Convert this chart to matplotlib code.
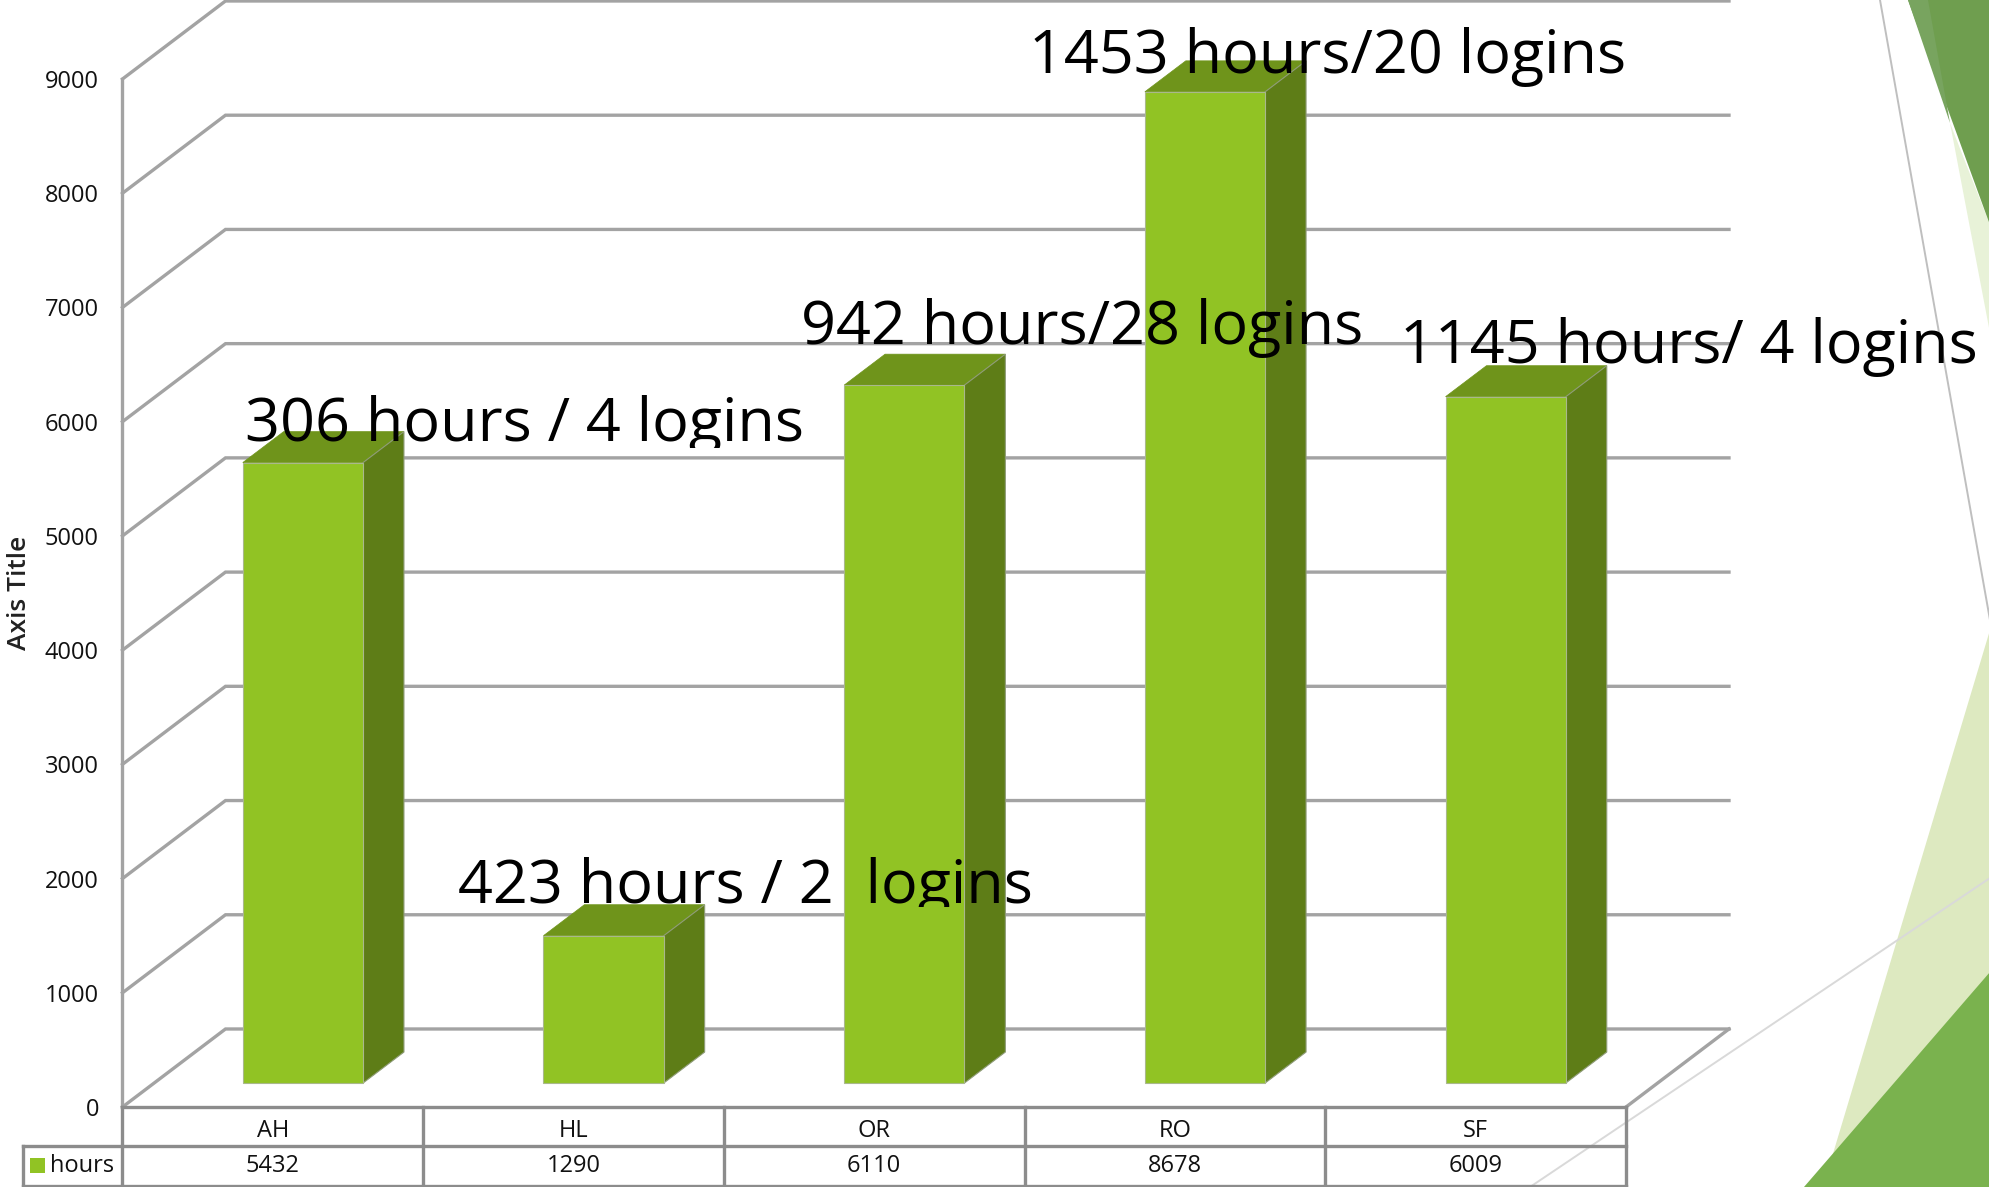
import matplotlib
matplotlib.use("Agg")
import matplotlib.pyplot as plt
from matplotlib.patches import Rectangle
from matplotlib.transforms import IdentityTransform

categories = ["AH", "HL", "OR", "RO", "SF"]
hours = [5432, 1290, 6110, 8678, 6009]
y_ticks = [0, 1000, 2000, 3000, 4000, 5000, 6000, 7000, 8000, 9000]
notes = ["306 hours / 4 logins", "423 hours / 2  logins", "942 hours/28 logins",
         "1453 hours/20 logins", "1145 hours/ 4 logins"]
series_name = "hours"
axis_title = "Axis Title"

W, H = 1990, 1187
FONT = "Open Sans"
GRID = "#a3a3a3"
TABLE = "#8c8c8c"
FRONT = "#91c324"
SIDE = "#5e7d17"
TOP = "#6f941b"

# oblique wall offset and bar box, in category / value units
WALL_DX, WALL_DY = 0.3425, 683
BAR_LEFT, BAR_W = 0.40, 0.40
BAR_DX, BAR_DY = 0.136, 271
BAR_BASE = 210
ROW_1, ROW_2 = -341, -692

fig = plt.figure(figsize=(W / 100, H / 100), dpi=100, facecolor="white")

# slide decoration behind the chart, in pixels
bg = fig.add_axes([0, 0, 1, 1])
bg.set_xlim(0, W)
bg.set_ylim(H, 0)
bg.axis("off")
bg.fill([1823, 1990, 1990, 1823], [1187, 630, 1187, 1187], color="#dde9c0", lw=0)
bg.fill([1804, 1990, 1990], [1187, 972, 1187], color="#7ab24e", lw=0)
bg.fill([1950, 1990, 1990], [123, 225, 333], color="#e8f2d8", lw=0)
bg.fill([1908, 1990, 1990], [0, 225, 0], color="#6f9e4f", lw=0)
bg.fill([1908, 1928, 1950], [0, 0, 123], color="#78a45f", lw=0)
bg.plot([1880, 1990], [0, 620], color="#bfbfbf", lw=1.4)
bg.plot([1530, 1990], [1187, 878], color="#d9d9d9", lw=1.4)

ax = fig.add_axes([122.5 / W, (H - 1107) / H, (1626 - 122.5) / W, (1107 - 79) / H])
ax.patch.set_alpha(0)
ax.set_xlim(0, len(categories))
ax.set_ylim(0, 9000)
for side in ax.spines.values():
    side.set_visible(False)

# walls
for v in y_ticks:
    ax.plot([0, WALL_DX, len(categories) + WALL_DX], [v, v + WALL_DY, v + WALL_DY],
            color=GRID, lw=2.4, clip_on=False, solid_joinstyle="miter", zorder=1)
ax.plot([0, 0], [0, 9000], color=GRID, lw=2.4, clip_on=False, zorder=1)
ax.plot([len(categories), len(categories) + WALL_DX], [0, WALL_DY], color=GRID, lw=2.4,
        clip_on=False, zorder=1)

# bars
for i, v in enumerate(hours):
    x0 = i + BAR_LEFT
    x1 = x0 + BAR_W
    y0 = BAR_BASE
    y1 = BAR_BASE + v
    ax.fill([x0, x1, x1 + BAR_DX, x0 + BAR_DX], [y1, y1, y1 + BAR_DY, y1 + BAR_DY],
            facecolor=TOP, edgecolor=TOP, lw=0.5, clip_on=False, zorder=3)
    ax.fill([x1, x1 + BAR_DX, x1 + BAR_DX, x1], [y0, y0 + BAR_DY, y1 + BAR_DY, y1],
            facecolor=SIDE, edgecolor="#8f9c78", lw=0.8, clip_on=False, zorder=3)
    ax.fill([x0, x1, x1, x0], [y0, y0, y1, y1],
            facecolor=FRONT, edgecolor="#a9b88c", lw=0.8, clip_on=False, zorder=3)

# data table under the chart
n = len(categories)
ax.plot([0, n], [0, 0], color=TABLE, lw=2.4, clip_on=False, zorder=2)
for y in (ROW_1, ROW_2):
    ax.plot([-0.332, n], [y, y], color=TABLE, lw=2.4, clip_on=False, zorder=2)
for i in range(n + 1):
    ax.plot([i, i], [0, ROW_2], color=TABLE, lw=2.4, clip_on=False, zorder=2)
ax.plot([-0.332, -0.332], [ROW_1, ROW_2], color=TABLE, lw=2.4, clip_on=False, zorder=2)
for i, (name, v) in enumerate(zip(categories, hours)):
    ax.text(i + 0.5, ROW_1 * 0.62, name, ha="center", va="center", fontsize=17, family=FONT, color="#111111")
    ax.text(i + 0.5, (ROW_1 + ROW_2) / 2, str(v), ha="center", va="center", fontsize=17, family=FONT, color="#111111")
ax.add_patch(Rectangle((-0.307, ROW_1 - 106), 0.05, -131, facecolor=FRONT, edgecolor="none", clip_on=False))
ax.text(-0.027, (ROW_1 + ROW_2) / 2, series_name, ha="right", va="center", fontsize=17, family=FONT, color="#111111")

ax.set_xticks([])
ax.set_yticks(y_ticks)
ax.set_yticklabels([str(v) for v in y_ticks], fontsize=17, family=FONT, color="#111111")
ax.tick_params(axis="y", length=0, pad=17)
fig.text(20 / W, 1 - 593 / H, axis_title, rotation=90, ha="center", va="center",
         fontsize=19, family=FONT, fontweight="semibold", color="#222222")

# big hand-placed labels: left, baseline, clip bottom (pixels)
note_left = [245, 458, 801, 1029, 1400]
note_base = [441, 903, 344, 73, 363]
note_clip = [448, 907, None, None, None]
for t, x, y, c in zip(notes, note_left, note_base, note_clip):
    txt = fig.text(x / W, 1 - y / H, t, ha="left", va="baseline", fontsize=44, family=FONT,
                   color="black", zorder=10)
    if c is not None:
        txt.set_clip_path(Rectangle((0, H - c), W, c, transform=IdentityTransform()))

fig.savefig("out.png", dpi=100, facecolor="white")
